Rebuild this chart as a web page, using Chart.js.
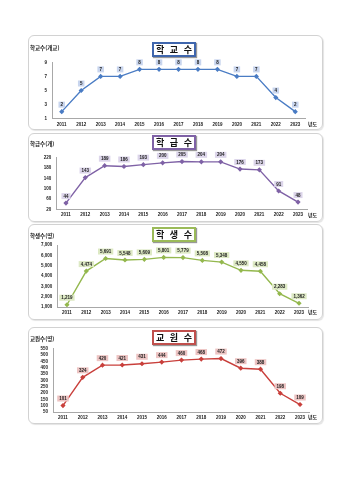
<!DOCTYPE html>
<html lang="ko">
<head>
<meta charset="utf-8">
<script src="https://cdn.jsdelivr.net/npm/chart.js@4"></script>
<style>
    body { margin: 0; background: #fff; font-family: "Noto Sans CJK KR", sans-serif; }
    #page { position: relative; width: 350px; height: 480px; overflow: hidden; }
    .panel { position: absolute; left: 28px; width: 293px; border: 1px solid #d2d2d2; border-radius: 6px; box-shadow: 1px 1px 1px #e4e4e4; }
    canvas { position: absolute; left: 0; }
    .title { position: absolute; left: 152px; width: 40px; height: 11px; background: #fff; border: 2px solid; box-shadow: 1px 1px 1px #999;
             font-size: 9px; font-weight: bold; line-height: 11px; text-align: center; letter-spacing: 1.5px; text-indent: 1.5px;
             white-space: nowrap; overflow: hidden; color: #111; }
</style>
</head>
<body>
<div id="page">
    <div class="panel" style="top:35px;height:93px"></div>
    <div class="panel" style="top:133px;height:87px"></div>
    <div class="panel" style="top:224px;height:94px"></div>
    <div class="panel" style="top:327px;height:95px"></div>

    <canvas id="c1" width="350" height="94" style="top:35px"></canvas>
    <canvas id="c2" width="350" height="88" style="top:133px"></canvas>
    <canvas id="c3" width="350" height="95" style="top:224px"></canvas>
    <canvas id="c4" width="350" height="96" style="top:327px"></canvas>

    <div class="title" style="top:42px;border-color:#3f66ad">학 교 수</div>
    <div class="title" style="top:135px;border-color:#7f62a6">학 급 수</div>
    <div class="title" style="top:227px;border-color:#9bbb59">학 생 수</div>
    <div class="title" style="top:330px;border-color:#c0504d">교 원 수</div>
</div>
<script>
// Données
const years = ['2011', '2012', '2013', '2014', '2015', '2016', '2017', '2018', '2019', '2020', '2021', '2022', '2023'];
const schools = [2, 5, 7, 7, 8, 8, 8, 8, 8, 7, 7, 4, 2];
const classes = [44, 143, 189, 186, 193, 200, 205, 204, 204, 176, 173, 91, 48];
const students = [1219, 4474, 5691, 5548, 5609, 5801, 5779, 5508, 5348, 4550, 4458, 2283, 1362];
const teachers = [101, 324, 420, 421, 431, 444, 460, 468, 472, 396, 388, 198, 109];

const tickFont = { family: '"Liberation Sans", Arial', size: 4.5, weight: 'bold' };

// Plugin maison : étiquettes encadrées + titre d'axe + "년도"
const labelBoxes = {
    id: 'labelBoxes',
    afterDatasetsDraw(chart, args, opts) {
        const ctx = chart.ctx;
        const meta = chart.getDatasetMeta(0);
        const data = chart.data.datasets[0].data;
        ctx.save();
        ctx.font = 'bold 4.5px "Liberation Sans", Arial';
        ctx.textAlign = 'center';
        ctx.textBaseline = 'middle';
        meta.data.forEach((pt, i) => {
            const txt = data[i].toLocaleString('en-US');
            const w = ctx.measureText(txt).width + 4;
            const h = 6;
            const x = pt.x, y = pt.y - opts.offset;
            ctx.fillStyle = opts.fill;
            ctx.fillRect(x - w / 2, y - h / 2, w, h);
            ctx.fillStyle = '#222';
            ctx.fillText(txt, x, y + 0.3);
        });

        ctx.textAlign = 'left';
        ctx.fillStyle = '#222';
        ctx.font = 'bold 5.5px "Noto Sans CJK KR"';
        ctx.fillText(opts.yTitle, 30, opts.yTitleY);
        ctx.font = 'bold 5px "Noto Sans CJK KR"';
        ctx.fillText('년도', 308, chart.chartArea.bottom + 5.5);
        ctx.restore();
    }
};

function makeChart(id, values, cfg) {
    return new Chart(document.getElementById(id), {
        type: 'line',
        data: {
            labels: years,
            datasets: [{
                data: values,
                borderColor: cfg.color,
                backgroundColor: cfg.color,
                borderWidth: 1.4,
                pointRadius: 1.6,
                pointStyle: 'rectRot',
                tension: 0
            }]
        },
        options: {
            responsive: false,
            animation: false,
            layout: { padding: { top: cfg.padTop, left: 0, right: cfg.padRight, bottom: 0 } },
            plugins: {
                legend: { display: false },
                tooltip: { enabled: false },
                labelBoxes: { fill: cfg.fill, offset: 7, yTitle: cfg.yTitle, yTitleY: cfg.yTitleY }
            },
            scales: {
                x: {
                    offset: true,
                    grid: { display: false, drawTicks: false },
                    border: { color: '#a8a8a8' },
                    ticks: { font: tickFont, color: '#222', padding: 3, maxRotation: 0, autoSkip: false },
                    afterFit: s => { s.height = cfg.xH; }
                },
                y: {
                    min: cfg.min,
                    max: cfg.max,
                    grid: { display: false, drawTicks: false },
                    border: { color: '#a8a8a8' },
                    ticks: {
                        stepSize: cfg.step, font: tickFont, color: '#222', padding: 5, autoSkip: false,
                        callback: v => v.toLocaleString('en-US')
                    },
                    afterFit: s => { s.width = cfg.yW; }
                }
            }
        },
        plugins: [labelBoxes]
    });
}

makeChart('c1', schools, {
    color: '#4a7cc4', fill: '#c8d5ee', yTitle: '학교수(개교)', yTitleY: 13,
    min: 1, max: 9, step: 2, padTop: 27.3, padRight: 45, yW: 52, xH: 10.3
});
makeChart('c2', classes, {
    color: '#7f62a6', fill: '#dcd5ea', yTitle: '학급수(개)', yTitleY: 11,
    min: 20, max: 220, step: 40, padTop: 24.7, padRight: 42.3, yW: 56.3, xH: 11.7
});
makeChart('c3', students, {
    color: '#94b84e', fill: '#dde9c4', yTitle: '학생수(명)', yTitleY: 12,
    min: 1000, max: 7000, step: 1000, padTop: 21, padRight: 41.3, yW: 57.3, xH: 12
});
makeChart('c4', teachers, {
    color: '#c9403c', fill: '#edc4c3', yTitle: '교원수(명)', yTitleY: 12,
    min: 50, max: 550, step: 50, padTop: 21.7, padRight: 40.1, yW: 53.1, xH: 11
});
</script>
</body>
</html>
